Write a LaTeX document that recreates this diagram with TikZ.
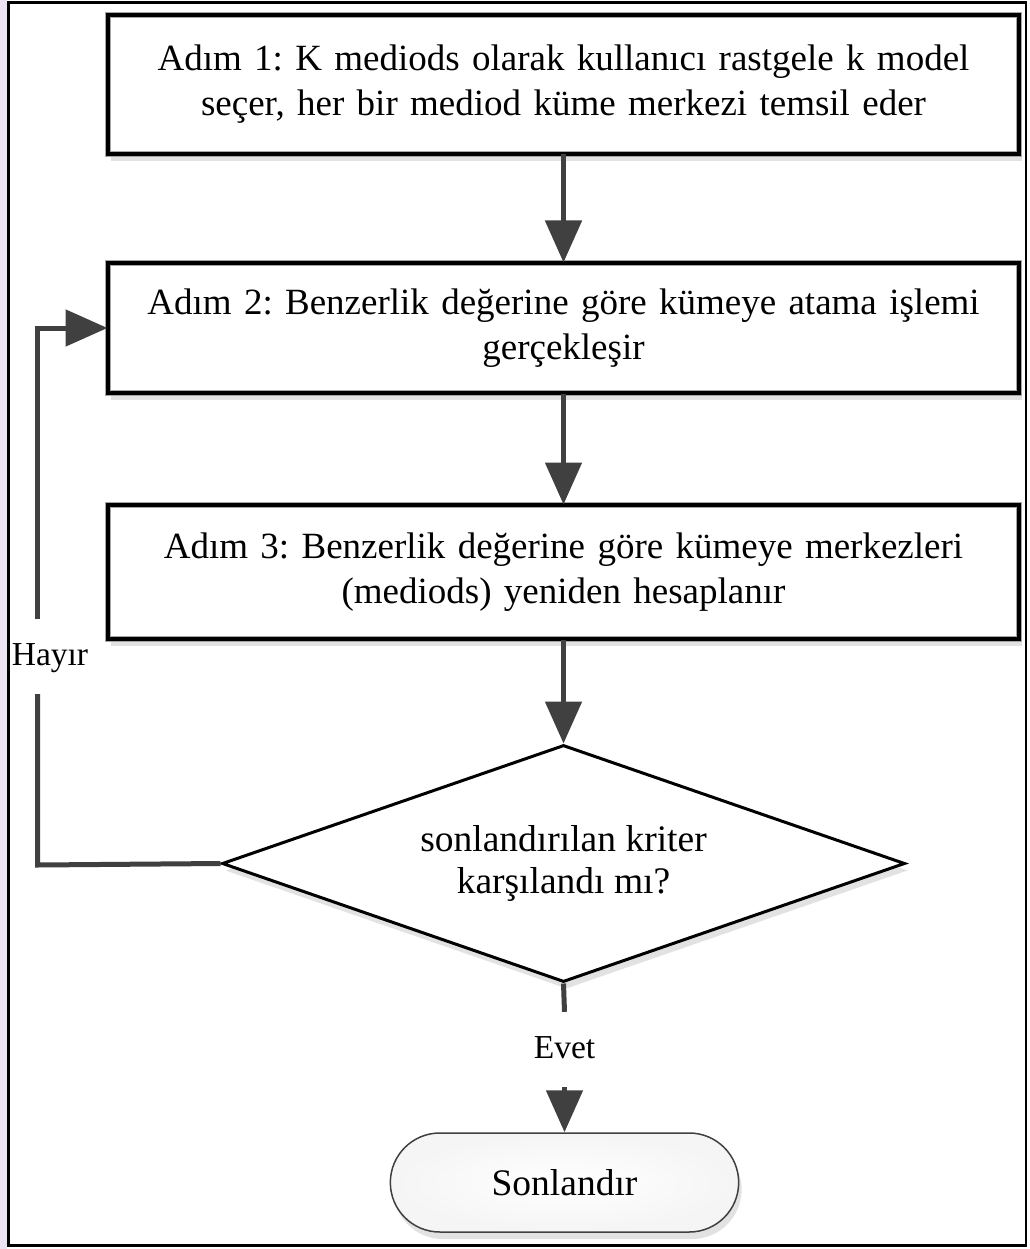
\documentclass[tikz,border=0pt]{standalone}
\usepackage{fontspec}
\setmainfont{Liberation Serif}
\usetikzlibrary{arrows.meta,shapes.geometric,shapes.misc,shadows}
\definecolor{arrgray}{HTML}{404040}
\definecolor{lav}{HTML}{EDE4F3}
\frenchspacing
\begin{document}
\begin{tikzpicture}[x=1pt,y=-1pt,
  shad/.style={drop shadow={shadow xshift=3pt,shadow yshift=-7pt,fill=black!22}},
  stepbox/.style={shad, draw=gray!70, double=black, line width=1pt, double distance=3.5pt,
    fill=white, minimum width=911pt, inner sep=0pt, text width=890pt, align=center,
    font=\fontsize{37}{45}\selectfont},
  decision/.style={shad, diamond, draw=black, line width=3pt, fill=white,
    minimum width=683pt, minimum height=237pt, aspect=2.88, inner sep=0pt, align=center,
    font=\fontsize{37.5}{42}\selectfont},
  terminal/.style={shad, rounded rectangle, draw=arrgray, line width=1.5pt,
    inner color=white, outer color=gray!8,
    minimum width=355pt, minimum height=99pt, font=\fontsize{37.5}{42}\selectfont},
  lbl/.style={font=\fontsize{33.5}{36}\selectfont, inner xsep=1pt, inner ysep=22pt,
    text height=24pt, text depth=7pt},
  ln/.style={draw=arrgray, line width=5pt},
  arr/.style={ln, -{Triangle[width=36pt,length=42pt]}}
]
\useasboundingbox (0,0) rectangle (1029,1249);
\fill[white] (0,0) rectangle (1029,1249);
\fill[lav] (0,0) rectangle (7,1249);
\draw[black, line width=2.5pt] (8.5,2.5) rectangle (1026,1245.5);

\node[stepbox, minimum height=139pt] (b1) at (563.5,84.5)
  {Adım 1: K mediods olarak kullanıcı rastgele k model\\seçer, her bir mediod küme merkezi temsil eder};
\node[stepbox, minimum height=130pt] (b2) at (563.5,328)
  {Adım 2: Benzerlik değerine göre kümeye atama işlemi\\gerçekleşir};
\node[stepbox, minimum height=134pt] (b3) at (563.5,572)
  {Adım 3: Benzerlik değerine göre kümeye merkezleri\\(mediods) yeniden hesaplanır};
\node[decision] (d) at (563.5,863.5) {sonlandırılan kriter\\karşılandı mı?};
\node[terminal] (t) at (564.5,1182.5) {Sonlandır};

\node[lbl] (evet) at (564.5,1049.5) {Evet};
\node[lbl] (hay) at (50,656.5) {Hayır};
\coordinate (c1) at (37.5,865);

\draw[arr] (b1.south) -- (b2.north);
\draw[arr] (b2.south) -- (b3.north);
\draw[arr] (b3.south) -- (d.north);
\draw[ln] (d.south) -- (evet.north);
\draw[arr] (evet.south) -- (t.north);
\draw[ln, line join=miter] (d.west) -- (c1) -- (c1 |- hay.south);
\draw[arr, line join=miter] (c1 |- hay.north) |- (b2.west);
\end{tikzpicture}
\end{document}
